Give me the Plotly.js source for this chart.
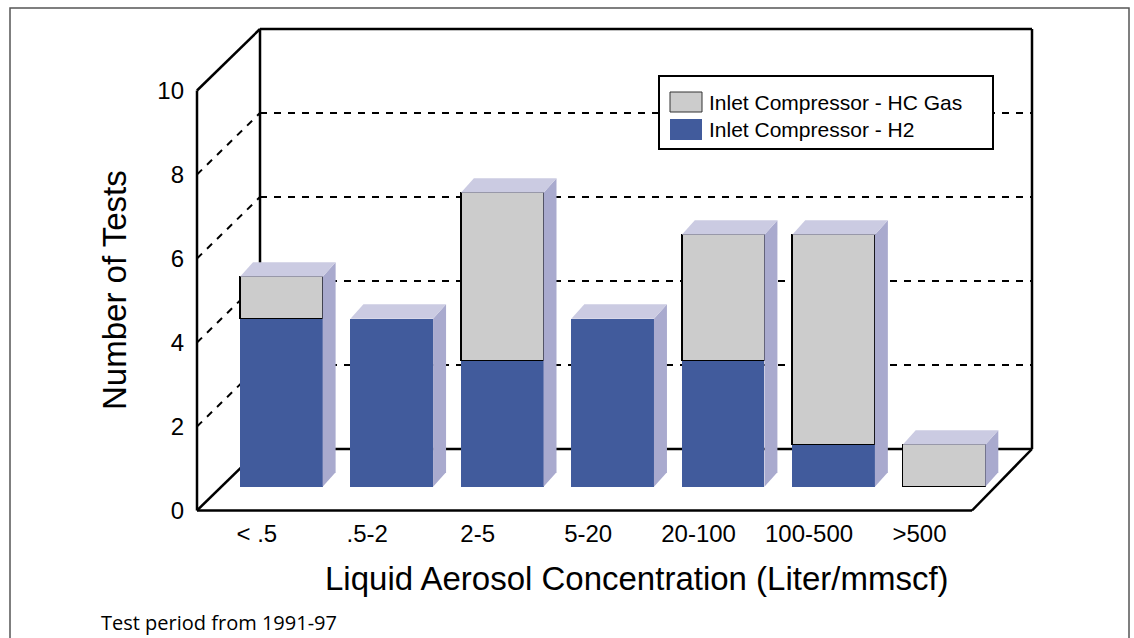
<!DOCTYPE html>
<html>
<head>
<meta charset="utf-8">
<script src="https://cdn.plot.ly/plotly-3.0.1.min.js"></script>
<style>html,body{margin:0;padding:0;background:#fff;}#chart{width:1134px;height:638px;}</style>
</head>
<body>
<div id="chart"></div>
<script>
// ---------------- data ----------------
const categories = ['< .5', '.5-2', '2-5', '5-20', '20-100', '100-500', '>500'];
const h2Tests    = [4, 4, 3, 4, 3, 1, 0];   // Inlet Compressor - H2
const hcGasTests = [1, 0, 4, 0, 3, 5, 1];   // Inlet Compressor - HC Gas
const yTickVals  = [0, 2, 4, 6, 8, 10];
const gridVals   = [2, 4, 6, 8];
const seriesNames = ['Inlet Compressor - HC Gas', 'Inlet Compressor - H2'];
const xTitle = 'Liquid Aerosol Concentration (Liter/mmscf)';
const yTitle = 'Number of Tests';
const footer = 'Test period from 1991-97';

// ---------------- geometry (pixels) ----------------
const W = 1134, H = 638;
const L = 197, R = 1033, T = 29, B = 511;
const PW = R - L, PH = B - T;
const UNIT = 42;              // px per test
const CAT0 = 281.3, CATSTEP = 110.45;
const FRONT0 = 510.5, BAR0 = 486.7, BACK0 = 449;
const FRONT_LEFT = 197, BACK_LEFT = 260, BACK_RIGHT = 1032, FRONT_RIGHT = 972;
const LABEL_SHIFT = 24.5;
const BAR_W = 0.748;
const BAR_DX = 13 / CATSTEP, BAR_DY = 14.5 / UNIT;

const blue = '#415B9C', grey = '#CCCCCC', sideCol = '#A9AACE', topCol = '#CBCBE2';
const fontA = 'Liberation Sans, Arial, sans-serif';

const pxX = p => (p - L) / PW;
const pxY = p => (B - p) / PH;
const frontY = v => FRONT0 - UNIT * v;
const backY = v => BACK0 - UNIT * v;

const idx = categories.map((c, i) => i);
const xr = [(L - CAT0) / CATSTEP, (R - CAT0) / CATSTEP];
const xr2 = [xr[0] + LABEL_SHIFT / CATSTEP, xr[1] + LABEL_SHIFT / CATSTEP];

// ---------------- traces ----------------
const traces = [];
traces.push({
  type: 'bar', name: seriesNames[1], x: idx, y: h2Tests.map(v => v || null),
  xaxis: 'x', yaxis: 'y2', width: BAR_W,
  marker: {color: blue, line: {width: 0}}, hoverinfo: 'skip', showlegend: false
});
traces.push({
  type: 'bar', name: seriesNames[0], x: idx, y: hcGasTests.map(v => v || null),
  xaxis: 'x', yaxis: 'y2', width: BAR_W,
  marker: {color: grey, line: {width: 1.5, color: '#000'}}, hoverinfo: 'skip', showlegend: false
});
// 3D side and top faces, derived from the stacked totals
idx.forEach(i => {
  const tot = h2Tests[i] + hcGasTests[i];
  if (!tot) return;
  const xl = i - BAR_W / 2, xrr = i + BAR_W / 2;
  traces.push({
    type: 'scatter', mode: 'lines', xaxis: 'x', yaxis: 'y2', fill: 'toself',
    x: [xrr, xrr, xrr + BAR_DX, xrr + BAR_DX, xrr],
    y: [0, tot, tot + BAR_DY, BAR_DY, 0],
    line: {width: 0}, fillcolor: sideCol, hoverinfo: 'skip', showlegend: false
  });
  traces.push({
    type: 'scatter', mode: 'lines', xaxis: 'x', yaxis: 'y2', fill: 'toself',
    x: [xl, xrr, xrr + BAR_DX, xl + BAR_DX, xl],
    y: [tot, tot, tot + BAR_DY, tot + BAR_DY, tot],
    line: {width: 0}, fillcolor: topCol, hoverinfo: 'skip', showlegend: false
  });
});
// carrier for the category label axis
traces.push({
  type: 'scatter', mode: 'markers', x: idx, y: idx.map(() => 0),
  xaxis: 'x2', yaxis: 'y', marker: {opacity: 0}, hoverinfo: 'skip', showlegend: false
});

// ---------------- shapes ----------------
const shapes = [];
const line = (x0, y0, x1, y1, w, dash, layer) => shapes.push({
  type: 'line', xref: 'paper', yref: 'paper',
  x0: pxX(x0), y0: pxY(y0), x1: pxX(x1), y1: pxY(y1),
  line: {color: '#000', width: w, dash: dash || 'solid'}, layer: layer || 'below'
});
// outer border
shapes.push({type: 'rect', xref: 'paper', yref: 'paper', x0: pxX(10), x1: pxX(1129), y0: pxY(8), y1: pxY(700),
  line: {color: '#555', width: 1.5}, fillcolor: 'rgba(0,0,0,0)', layer: 'below'});
// grid lines (dashed) on left wall and back wall
gridVals.forEach(v => {
  line(FRONT_LEFT, frontY(v), BACK_LEFT, backY(v), 2, '7px,7px');
  line(BACK_LEFT, backY(v), BACK_RIGHT, backY(v), 2, '7px,7px');
});
const FW = 2.5;
line(FRONT_LEFT, frontY(0), FRONT_LEFT, frontY(10), FW);
line(FRONT_LEFT, frontY(10), BACK_LEFT, backY(10), FW);
line(BACK_LEFT, backY(10), BACK_RIGHT, backY(10), FW);
line(BACK_LEFT, backY(10), BACK_LEFT, backY(0), FW);
line(BACK_RIGHT, backY(10), BACK_RIGHT, backY(0), FW);
line(BACK_LEFT, backY(0), BACK_RIGHT, backY(0), FW);
line(FRONT_LEFT, frontY(0), BACK_LEFT, backY(0), FW);
line(FRONT_LEFT, frontY(0), FRONT_RIGHT, frontY(0), FW);
line(FRONT_RIGHT, frontY(0), BACK_RIGHT, backY(0), FW);

// legend box
const LG = {x0: 659, x1: 993, y0: 76, y1: 149};
shapes.push({type: 'rect', xref: 'paper', yref: 'paper', x0: pxX(LG.x0), x1: pxX(LG.x1), y0: pxY(LG.y0), y1: pxY(LG.y1),
  line: {color: '#000', width: 2}, fillcolor: '#fff', layer: 'above'});
shapes.push({type: 'rect', xref: 'paper', yref: 'paper', x0: pxX(670), x1: pxX(702), y0: pxY(92), y1: pxY(112),
  line: {color: '#333', width: 1}, fillcolor: grey, layer: 'above'});
shapes.push({type: 'rect', xref: 'paper', yref: 'paper', x0: pxX(670), x1: pxX(702), y0: pxY(119), y1: pxY(140),
  line: {width: 0}, fillcolor: blue, layer: 'above'});

// ---------------- annotations ----------------
const annotations = [
  {text: seriesNames[0], xref: 'paper', yref: 'paper', x: pxX(707), y: pxY(102.5), xanchor: 'left', yanchor: 'middle',
   showarrow: false, font: {family: fontA, size: 21, color: '#000'}},
  {text: seriesNames[1], xref: 'paper', yref: 'paper', x: pxX(707), y: pxY(129.5), xanchor: 'left', yanchor: 'middle',
   showarrow: false, font: {family: fontA, size: 21, color: '#000'}},
  {text: xTitle, xref: 'paper', yref: 'paper', x: pxX(637), y: pxY(578), xanchor: 'center', yanchor: 'middle',
   showarrow: false, font: {family: fontA, size: 33, color: '#000'}},
  {text: yTitle, xref: 'paper', yref: 'paper', x: pxX(114), y: pxY(290), xanchor: 'center', yanchor: 'middle',
   textangle: -90, showarrow: false, font: {family: fontA, size: 33, color: '#000'}},
  {text: footer, xref: 'paper', yref: 'paper', x: pxX(99), y: pxY(638), xanchor: 'left', yanchor: 'bottom',
   showarrow: false, font: {family: 'Open Sans, sans-serif', size: 20, color: '#000'}}
];

// ---------------- layout ----------------
const layout = {
  width: W, height: H,
  margin: {l: L, r: W - R, t: T, b: H - B, pad: 0},
  paper_bgcolor: '#fff', plot_bgcolor: 'rgba(0,0,0,0)',
  showlegend: false, hovermode: false, barmode: 'stack', bargap: 0,
  xaxis: {range: xr, showticklabels: false, showgrid: false, zeroline: false, showline: false, ticks: ''},
  xaxis2: {range: xr2, overlaying: 'x', anchor: 'y', side: 'bottom', tickmode: 'array', tickvals: idx, ticktext: categories,
    showgrid: false, zeroline: false, showline: false, ticks: '', ticklabelstandoff: 6,
    tickfont: {family: fontA, size: 24, color: '#000'}},
  yaxis: {range: [(FRONT0 - B) / UNIT, (FRONT0 - T) / UNIT], tickmode: 'array', tickvals: yTickVals,
    showgrid: false, zeroline: false, showline: false, ticks: '', ticklabelstandoff: 12,
    tickfont: {family: fontA, size: 24, color: '#000'}},
  yaxis2: {range: [(BAR0 - B) / UNIT, (BAR0 - T) / UNIT], overlaying: 'y', anchor: 'x', visible: false},
  shapes: shapes, annotations: annotations
};

Plotly.newPlot('chart', traces, layout, {staticPlot: true, displayModeBar: false});
</script>
</body>
</html>
